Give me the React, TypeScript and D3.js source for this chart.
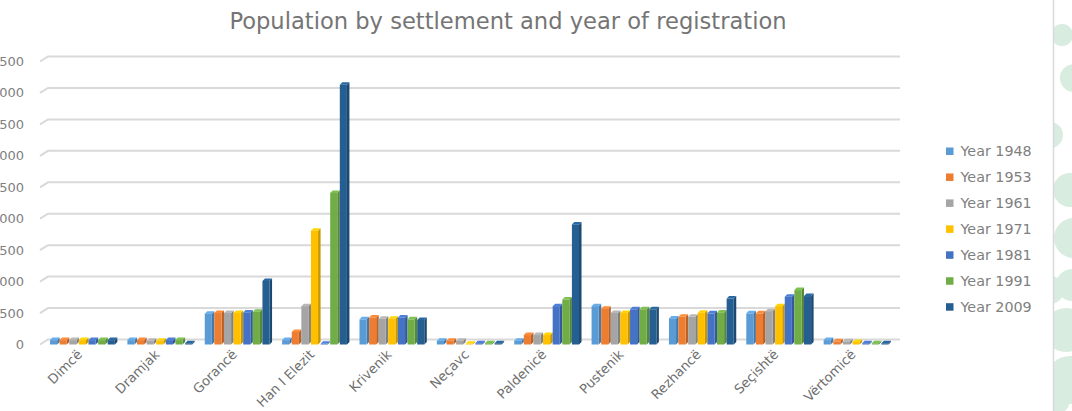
import React from "react";
import * as d3 from "d3";

const categories = ["Dimcë", "Dramjak", "Gorancë", "Han I Elezit", "Krivenik", "Neçavc", "Paldenicë", "Pustenik", "Rezhancë", "Seçishtë", "Vërtomicë"];
const seriesNames = ["Year 1948", "Year 1953", "Year 1961", "Year 1971", "Year 1981", "Year 1991", "Year 2009"];
const v1948 = [70, 70, 490, 70, 400, 60, 60, 610, 415, 495, 70];
const v1953 = [70, 70, 500, 200, 430, 60, 150, 570, 440, 495, 50];
const v1961 = [70, 60, 500, 610, 410, 60, 150, 500, 440, 530, 50];
const v1971 = [70, 60, 500, 1810, 410, 10, 150, 500, 505, 610, 40];
const v1981 = [70, 70, 510, 10, 430, 20, 610, 560, 495, 760, 20];
const v1991 = [70, 70, 520, 2410, 400, 20, 715, 560, 510, 865, 20];
const v2009 = [70, 20, 1010, 4130, 390, 20, 1910, 560, 730, 770, 20];
const seriesValues = [v1948, v1953, v1961, v1971, v1981, v1991, v2009];
const colors = ["#5b9bd5", "#ed7d31", "#a5a5a5", "#ffc000", "#4472c4", "#70ad47", "#255e91"];
const yTicks = [0, 500, 1000, 1500, 2000, 2500, 3000, 3500, 4000, 4500];

const W = 1072, H = 411;
const FONT = "'DejaVu Sans', sans-serif";

export default function App() {
  const x = d3.scaleBand<string>().domain(categories).range([45, 896]).paddingInner(0.13).paddingOuter(0.065);
  const inner = d3.scaleBand<string>().domain(seriesNames).range([0, x.bandwidth()]).padding(0);
  const y = d3.scaleLinear().domain([0, 4500]).range([344.5, 61.5]);
  const bw = inner.bandwidth();
  const dx = 2.5, dy = 2.5;
  const fw = bw - dx;
  const gx0 = 48, gx1 = 900, gdx = 8, gdy = 5;

  const circles = [
    [1062, 35, 11], [1074, 78, 14], [1050, 135, 13], [1070, 190, 17], [1074, 238, 20],
    [1050, 290, 14], [1072, 285, 16], [1066, 330, 22], [1070, 380, 24], [1056, 400, 14],
  ];

  return (
    <svg width={W} height={H} style={{ position: "absolute", left: 0, top: 0, background: "#fff" }} fontFamily={FONT}>
      <defs>
        <clipPath id="deco"><rect x={1054} y={0} width={18} height={H} /></clipPath>
      </defs>
      <rect x={0} y={0} width={W} height={H} fill="#fff" />
      <g clipPath="url(#deco)">
        {circles.map((c, i) => <circle key={i} cx={c[0]} cy={c[1]} r={c[2]} fill="#d8ece0" />)}
      </g>
      <line x1={1053.5} x2={1053.5} y1={0} y2={H} stroke="#d9d9d9" strokeWidth={1.5} />
      <text x={508} y={28.5} textAnchor="middle" fontSize={22.6} fill="#757575">Population by settlement and year of registration</text>
      {yTicks.map(t => {
        const yy = y(t);
        return (
          <g key={t}>
            <polyline points={`${gx0 - gdx},${yy} ${gx0},${yy - gdy} ${gx1},${yy - gdy}`} fill="none" stroke="#d9d9d9" strokeWidth={2} />
            <text x={24} y={yy} dy="0.35em" textAnchor="end" fontSize={13} fill="#7f7f7f">{t}</text>
          </g>
        );
      })}
      {categories.map((c, ci) => (
        <g key={c}>
          {seriesNames.map((s, si) => {
            const v = seriesValues[si][ci];
            const x0 = (x(c) as number) + (inner(s) as number);
            const yt = y(v), yb = y(0);
            const col = colors[si];
            const dark = d3.color(col)!.darker(0.7).toString();
            const light = d3.color(col)!.brighter(0.3).toString();
            return (
              <g key={s}>
                <polygon points={`${x0 + fw},${yt} ${x0 + fw + dx},${yt - dy} ${x0 + fw + dx},${yb - dy} ${x0 + fw},${yb}`} fill={dark} />
                <polygon points={`${x0},${yt} ${x0 + dx},${yt - dy} ${x0 + fw + dx},${yt - dy} ${x0 + fw},${yt}`} fill={light} />
                <rect x={x0} y={yt} width={fw} height={Math.max(0, yb - yt)} fill={col} />
              </g>
            );
          })}
          <text transform={`translate(${(x(c) as number) + x.bandwidth() / 2 - 4},${352}) rotate(-45)`} textAnchor="end" dy="0.35em" fontSize={13.2} fill="#6f6f6f">{c}</text>
        </g>
      ))}
      {seriesNames.map((s, i) => (
        <g key={s} transform={`translate(946,${151 + i * 25.95})`}>
          <rect x={0} y={-3.5} width={7.5} height={7.5} fill={colors[i]} />
          <text x={14.5} y={0} dy="0.35em" fontSize={14.3} fill="#7f7f7f">{s}</text>
        </g>
      ))}
    </svg>
  );
}
